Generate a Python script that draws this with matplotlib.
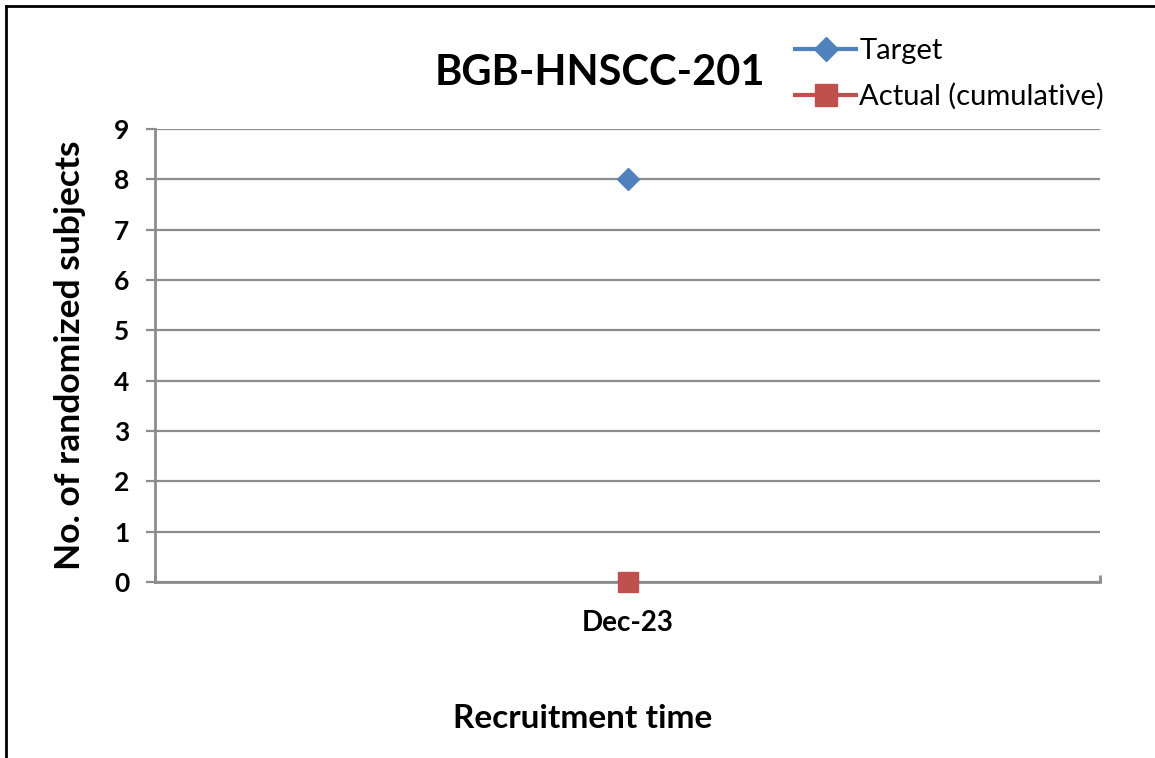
import matplotlib.pyplot as plt
from matplotlib.lines import Line2D

# chart data
categories = ['Dec-23']
target = [8]
actual = [0]
y_ticks = list(range(0, 10))

plt.rcParams['font.family'] = ['Lato', 'DejaVu Sans']

fig = plt.figure(figsize=(11.55, 7.58), dpi=100)
ax = fig.add_axes([155 / 1155, 1 - 582 / 758, 945 / 1155, 453 / 758])

x = list(range(len(categories)))
grid_col = '#8c8c8c'

ax.plot(x, target, color='#4F81BD', lw=2.5, marker='D', markersize=11,
        label='Target', zorder=3, clip_on=False)
ax.plot(x, actual, color='#C0504D', lw=2.5, marker='s', markersize=14,
        label='Actual (cumulative)', zorder=3, clip_on=False)

ax.set_xlim(-0.5, len(categories) - 0.5)
ax.set_ylim(0, 9)
ax.set_yticks(y_ticks)
ax.set_xticks(x)
ax.set_xticklabels(categories)
ax.set_xticks([-0.5, len(categories) - 0.5], minor=True)

ax.grid(axis='y', color=grid_col, lw=1.6)
ax.set_axisbelow(True)
for s in ['top', 'right']:
    ax.spines[s].set_visible(False)
for s in ['left', 'bottom']:
    ax.spines[s].set_color(grid_col)
    ax.spines[s].set_linewidth(2)

ax.tick_params(axis='y', length=6.5, width=1.6, color=grid_col, pad=12,
               labelsize=19)
ax.tick_params(axis='x', which='major', length=0, pad=20, labelsize=20)
ax.tick_params(axis='x', which='minor', length=5, width=2, color=grid_col,
               direction='in')
for lab in ax.get_xticklabels() + ax.get_yticklabels():
    lab.set_fontweight('bold')

ax.set_ylabel('No. of randomized subjects', fontsize=25.5, fontweight='bold')
ax.yaxis.set_label_coords(-0.073, 0.5)
fig.text(583 / 1155, 1 - 718 / 758, 'Recruitment time', fontsize=24,
         fontweight='bold', ha='center', va='center')
fig.text(600 / 1155, 1 - 73 / 758, 'BGB-HNSCC-201', fontsize=30,
         fontweight='bold', ha='center', va='center')

handles = [
    Line2D([], [], color='#4F81BD', lw=3, marker='D', markersize=12),
    Line2D([], [], color='#C0504D', lw=3, marker='s', markersize=16),
]
fig.legend(handles, ['Target', 'Actual (cumulative)'], loc='upper left',
           bbox_to_anchor=(795 / 1155, 1 - 38 / 758), frameon=False,
           fontsize=21, handlelength=2.1, handletextpad=0.1,
           labelspacing=0.65, borderpad=0, borderaxespad=0)

# outer border (left and top edges visible)
fig.add_artist(Line2D([6 / 1155, 6 / 1155], [0, 1 - 6 / 758],
                      color='black', lw=2, transform=fig.transFigure))
fig.add_artist(Line2D([6 / 1155, 1], [1 - 6 / 758, 1 - 6 / 758],
                      color='black', lw=2, transform=fig.transFigure))

fig.savefig('out.png', dpi=100)
